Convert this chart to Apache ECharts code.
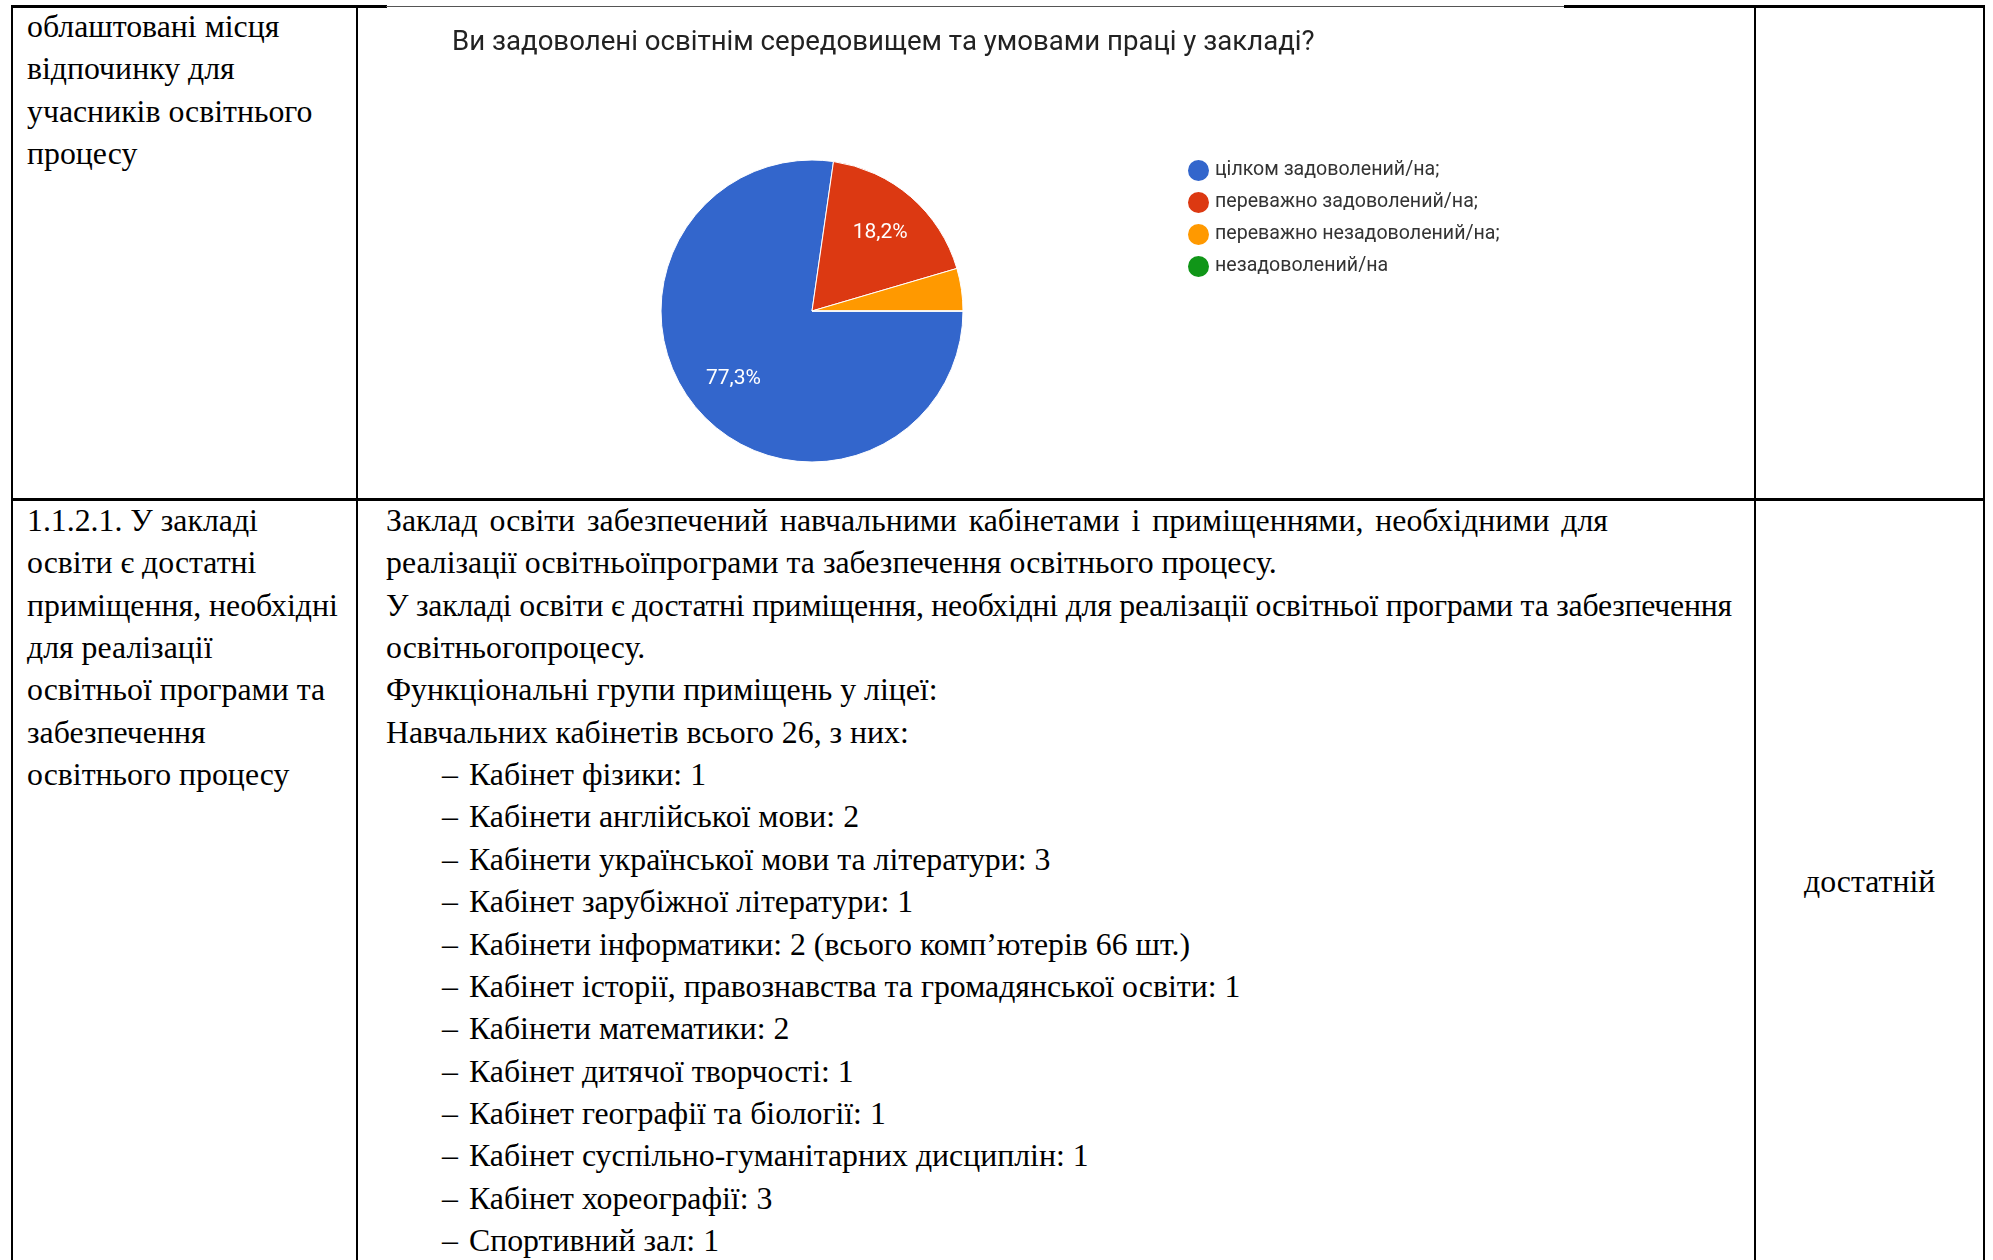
<!DOCTYPE html>
<html><head><meta charset="utf-8">
<script src="https://cdn.jsdelivr.net/npm/echarts@6/dist/echarts.min.js"></script>
<style>
html,body{margin:0;padding:0;background:#fff;width:1993px;height:1260px;overflow:hidden;}
.t{position:absolute;font-family:"Liberation Serif","Times New Roman",serif;font-size:31.8px;line-height:42.35px;color:#000;white-space:nowrap;}
.ln{position:absolute;background:#000;}
#chart{position:absolute;left:0;top:0;width:1993px;height:1260px;}
</style></head><body>
<div id="doc"></div>
<div id="chart"></div>
<script>
// ---- chart data ----
const chartTitle = 'Ви задоволені освітнім середовищем та умовами праці у закладі?';
const categories = ['цілком задоволений/на;', 'переважно задоволений/на;', 'переважно незадоволений/на;', 'незадоволений/на'];
const responses = [17, 4, 1, 0];
const sliceColors = ['#3366CC', '#DC3912', '#FF9900', '#109618'];

// ---- document text ----
const row1Left = ['облаштовані місця', 'відпочинку для', 'учасників освітнього', 'процесу'];
const row2Left = ['1.1.2.1. У закладі', 'освіти є достатні', 'приміщення, необхідні', 'для реалізації', 'освітньої програми та', 'забезпечення', 'освітнього процесу'];
const row2Para = [
  'Заклад освіти забезпечений навчальними кабінетами і приміщеннями, необхідними для',
  'реалізації освітньоїпрограми та забезпечення освітнього процесу.',
  'У закладі освіти є достатні приміщення, необхідні для реалізації освітньої програми та забезпечення',
  'освітньогопроцесу.',
  'Функціональні групи приміщень у ліцеї:',
  'Навчальних кабінетів всього 26, з них:'
];
const roomList = [
  'Кабінет фізики: 1',
  'Кабінети англійської мови: 2',
  'Кабінети української мови та літератури: 3',
  'Кабінет зарубіжної літератури: 1',
  'Кабінети інформатики: 2 (всього комп’ютерів 66 шт.)',
  'Кабінет історії, правознавства та громадянської освіти: 1',
  'Кабінети математики: 2',
  'Кабінет дитячої творчості: 1',
  'Кабінет географії та біології: 1',
  'Кабінет суспільно-гуманітарних дисциплін: 1',
  'Кабінет хореографії: 3',
  'Спортивний зал: 1'
];
const levelText = 'достатній';

// ---- build document ----
const doc = document.getElementById('doc');
const LH = 42.35;
function addText(txt, x, y, extra){
  const d = document.createElement('div');
  d.className = 't';
  d.style.left = x + 'px'; d.style.top = y + 'px';
  d.textContent = txt;
  if (extra) Object.assign(d.style, extra);
  doc.appendChild(d);
  return d;
}
function addLine(x, y, w, h, color){
  const d = document.createElement('div');
  d.className = 'ln';
  d.style.left = x + 'px'; d.style.top = y + 'px';
  d.style.width = w + 'px'; d.style.height = h + 'px';
  if (color) d.style.background = color;
  doc.appendChild(d);
}
// borders
addLine(11, 5, 376, 3);
addLine(386, 6, 1180, 1, '#555');
addLine(1564, 5, 421, 3);
addLine(11, 5, 2, 1255);
addLine(356, 5, 2, 1255);
addLine(1754, 5, 2, 1255);
addLine(1983, 5, 2, 1255);
addLine(11, 498, 1974, 3);

row1Left.forEach((s, i) => addText(s, 27, 6 + i * LH));
row2Left.forEach((s, i) => addText(s, 27, 500 + i * LH));
row2Para.forEach((s, i) => {
  let ex = null;
  if (i === 0) ex = {width:'1222px', textAlign:'justify', textAlignLast:'justify', whiteSpace:'normal'};
  if (i === 2) ex = {letterSpacing:'-0.24px'};
  addText(s, 386, 500 + i * LH, ex);
});
roomList.forEach((s, i) => {
  const y = 500 + (row2Para.length + i) * LH;
  addText('–', 442, y);
  addText(s, 469, y);
});
addText(levelText, 1804, 882 - LH / 2);

// ---- chart ----
const total = responses.reduce((a, b) => a + b, 0);
const pieData = categories.map((n, i) => ({name: n, value: responses[i], itemStyle: {color: sliceColors[i]}}));
const chart = echarts.init(document.getElementById('chart'), null, {renderer: 'canvas'});
chart.setOption({
  backgroundColor: 'transparent',
  animation: false,
  title: {
    text: chartTitle, left: 447, top: 24,
    textStyle: {fontFamily: 'Roboto', fontSize: 27.6, fontWeight: 'normal', color: '#222'}
  },
  legend: {
    orient: 'vertical', left: 1181, top: 153, icon: 'circle',
    itemWidth: 23, itemHeight: 23, itemGap: 7, selectedMode: false,
    data: categories,
    textStyle: {fontFamily: 'Roboto', fontSize: 19.6, color: '#333'}
  },
  series: [
    {
      type: 'pie', center: [812, 311], radius: [0, 151], startAngle: 0, clockwise: true,
      data: pieData, silent: true,
      itemStyle: {borderColor: '#fff', borderWidth: 1},
      label: {show: false}, labelLine: {show: false}
    },
    {
      type: 'pie', center: [812, 311], radius: [51, 151], startAngle: 0, clockwise: true,
      data: categories.map((n, i) => ({name: n, value: responses[i]})), silent: true,
      legendHoverLink: false,
      itemStyle: {color: 'rgba(0,0,0,0)', borderWidth: 0},
      label: {
        show: true, position: 'inside', color: '#fff', fontFamily: 'Roboto', fontSize: 21,
        formatter: p => p.value / total >= 0.05 ? (p.value / total * 100).toFixed(1).replace('.', ',') + '%' : ''
      },
      labelLine: {show: false}
    }
  ]
});
</script>
</body></html>
